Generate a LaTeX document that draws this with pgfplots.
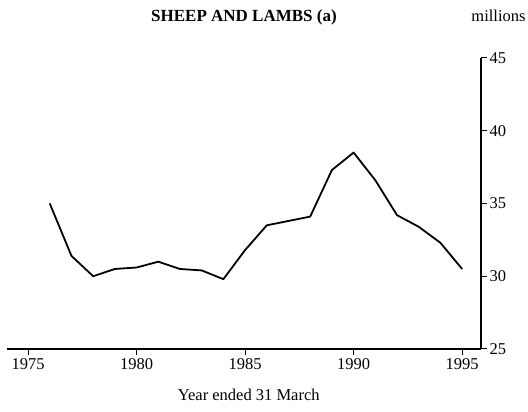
\documentclass[border=0pt]{standalone}
\usepackage{pgfplots}
\pgfplotsset{compat=1.18}
\usepackage{fontspec}
\setmainfont{Liberation Serif}
\begin{document}
\begin{tikzpicture}[x=1pt,y=1pt]
\path[use as bounding box] (-7,-63) rectangle (521,349);
\begin{axis}[
  at={(0,0)}, anchor=origin,
  scale only axis,
  width=474pt, height=291pt,
  xmin=1974.03, xmax=1995.87,
  ymin=25, ymax=45,
  axis x line=bottom, axis y line=right,
  axis line style={-, line width=1.1pt},
  xtick={1975,1980,1985,1990,1995},
  ytick={25,30,35,40,45},
  tick align=outside,
  major tick length=6pt,
  tick style={line width=1pt, black},
  xticklabel style={/pgf/number format/1000 sep={}, font=\fontsize{16.5}{18}\selectfont},
  yticklabel style={font=\fontsize{16.5}{18}\selectfont, xshift=-1pt},
  /pgf/number format/assume math mode=true,
  xlabel={Year ended 31 March},
  xlabel style={at={(axis description cs:0.51,0)}, anchor=base, yshift=-52pt, font=\fontsize{16.5}{18}\selectfont},
  clip=false,
]
\addplot[black, line width=1.8pt, line join=round] coordinates {
(1976,35.0) (1977,31.4) (1978,30.0) (1979,30.5) (1980,30.6)
(1981,31.0) (1982,30.5) (1983,30.4) (1984,29.8) (1985,31.8)
(1986,33.5) (1987,33.8) (1988,34.1) (1989,37.3) (1990,38.5)
(1991,36.6) (1992,34.2) (1993,33.4) (1994,32.3) (1995,30.5)
};
\node[anchor=base, font=\fontsize{17}{18}\selectfont\bfseries] at ([yshift=36pt]rel axis cs:0.5,1) {SHEEP AND LAMBS (a)};
\node[anchor=base, font=\fontsize{16.5}{18}\selectfont] at ([xshift=17.5pt,yshift=36pt]rel axis cs:1,1) {millions};
\end{axis}
\end{tikzpicture}
\end{document}
